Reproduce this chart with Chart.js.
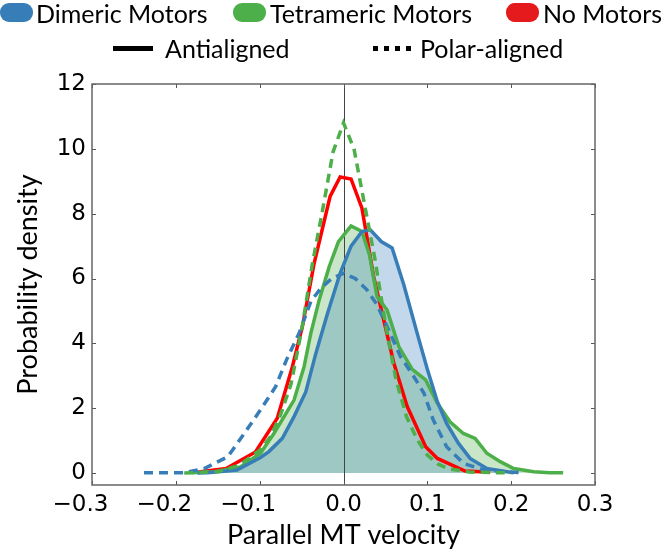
<!DOCTYPE html>
<html>
<head>
<meta charset="utf-8">
<script src="https://cdn.jsdelivr.net/npm/chart.js@4"></script>
<style>
  body { margin: 0; background: #fff; }
  #wrap { position: relative; width: 661px; height: 551px; overflow: hidden; }
  .leg { position: absolute; font-family: Lato, sans-serif; font-size: 25px; color: #000; white-space: nowrap; line-height: 26px; }
  .pill { position: absolute; width: 33px; height: 19px; border-radius: 9px; }
  .ln { position: absolute; width: 40px; height: 5px; background: #000; }
  .dots { position: absolute; width: 38px; height: 5px; background: repeating-linear-gradient(to right, #000 0 5px, transparent 5px 11px); }
</style>
</head>
<body>
<div id="wrap">
  <canvas id="grafico" width="661" height="551"></canvas>

  <div class="pill" style="left:0px;top:3px;background:#377eb8"></div>
  <div class="leg" style="left:36px;top:0px">Dimeric Motors</div>
  <div class="pill" style="left:233px;top:3px;background:#4daf4a"></div>
  <div class="leg" style="left:270px;top:0px">Tetrameric Motors</div>
  <div class="pill" style="left:506px;top:3px;background:#e41a1c"></div>
  <div class="leg" style="left:543px;top:0px">No Motors</div>

  <div class="ln" style="left:113px;top:46px"></div>
  <div class="leg" style="left:165px;top:35px">Antialigned</div>
  <div class="dots" style="left:373px;top:46px"></div>
  <div class="leg" style="left:420px;top:35px">Polar-aligned</div>
</div>

<script>
// ejes
const xTicks = [-0.3, -0.2, -0.1, 0.0, 0.1, 0.2, 0.3];
const yTicks = [0, 2, 4, 6, 8, 10, 12];

// Dimeric, antialigned (solid blue, filled)
const xDimAnti = [-0.174, -0.162, -0.127, -0.099, -0.089, -0.073, -0.059, -0.045, -0.033, -0.019, -0.004, 0.009, 0.022, 0.032, 0.045, 0.058, 0.072, 0.088, 0.100, 0.112, 0.123, 0.137, 0.151, 0.171, 0.195, 0.203];
const yDimAnti = [0.00, 0.01, 0.09, 0.48, 0.66, 1.07, 1.74, 2.50, 3.69, 4.93, 6.16, 7.00, 7.45, 7.50, 7.14, 6.94, 5.80, 4.30, 3.20, 2.20, 1.53, 0.92, 0.45, 0.14, 0.04, 0.01];

// Dimeric, polar-aligned (dashed blue)
const xDimPolar = [-0.238, -0.190, -0.166, -0.138, -0.117, -0.099, -0.081, -0.068, -0.053, -0.039, -0.027, -0.014, 0.000, 0.014, 0.028, 0.040, 0.052, 0.068, 0.084, 0.096, 0.107, 0.123, 0.143, 0.167, 0.211];
const yDimPolar = [0.01, 0.01, 0.14, 0.50, 1.27, 1.95, 2.66, 3.49, 4.31, 5.29, 5.70, 6.00, 6.16, 6.00, 5.65, 5.19, 4.52, 3.59, 2.97, 2.46, 1.64, 0.81, 0.30, 0.09, 0.01];

// Tetrameric, antialigned (solid green, filled)
const xTetAnti = [-0.180, -0.154, -0.123, -0.099, -0.083, -0.059, -0.047, -0.039, -0.029, -0.017, -0.006, 0.009, 0.022, 0.031, 0.040, 0.052, 0.066, 0.082, 0.098, 0.112, 0.127, 0.143, 0.157, 0.171, 0.187, 0.203, 0.227, 0.246, 0.262];
const yTetAnti = [0.01, 0.04, 0.19, 0.61, 1.22, 2.25, 3.28, 4.31, 5.34, 6.37, 7.14, 7.62, 7.45, 6.73, 5.44, 5.03, 3.90, 3.20, 2.87, 2.15, 1.58, 1.22, 1.07, 0.61, 0.35, 0.14, 0.04, 0.01, 0.01];

// Tetrameric, polar-aligned (dashed green)
const xTetPolar = [-0.190, -0.150, -0.125, -0.100, -0.087, -0.075, -0.0625, -0.050, -0.0375, -0.025, -0.0125, 0.000, 0.0125, 0.025, 0.0375, 0.050, 0.0625, 0.075, 0.0875, 0.100, 0.1125, 0.125, 0.150, 0.200];
const yTetPolar = [0.00, 0.04, 0.23, 0.70, 1.12, 1.80, 2.75, 4.40, 6.40, 8.10, 9.90, 10.80, 10.00, 8.30, 6.60, 4.60, 2.90, 1.75, 1.05, 0.55, 0.28, 0.13, 0.03, 0.00];

// No motors (solid red)
const xNone = [-0.175, -0.140, -0.105, -0.079, -0.061, -0.049, -0.035, -0.016, -0.004, 0.009, 0.022, 0.036, 0.048, 0.060, 0.076, 0.098, 0.112, 0.145, 0.175];
const yNone = [0.02, 0.14, 0.65, 1.69, 3.28, 4.52, 6.47, 8.53, 9.13, 9.07, 8.17, 6.06, 4.72, 3.39, 2.05, 0.81, 0.45, 0.06, 0.02];

const AZUL = "#377eb8", VERDE = "#4daf4a", ROJO = "#ff0000";

function pares(xs, ys) {
  return xs.map((x, i) => ({ x: x, y: ys[i] }));
}

function etiquetaX(v) {
  if (Math.abs(v) < 1e-9) return "0.0";
  if (v < 0) return "\u2212" + Math.abs(v).toFixed(1) + "\u2002\u2002";
  return v.toFixed(1);
}

// marco, marcas internas y linea vertical en x = 0
const marco = {
  id: "marco",
  beforeDatasetsDraw(chart) {
    const { ctx, chartArea: a, scales } = chart;
    const x0 = Math.round(scales.x.getPixelForValue(0)) + 0.5;
    ctx.save();
    ctx.strokeStyle = "#444";
    ctx.lineWidth = 1;
    ctx.beginPath();
    ctx.moveTo(x0, a.top);
    ctx.lineTo(x0, a.bottom);
    ctx.stroke();
    ctx.restore();
  },
  afterDatasetsDraw(chart) {
    const { ctx, chartArea: a, scales } = chart;
    ctx.save();
    ctx.strokeStyle = "#555";
    ctx.lineWidth = 1;
    ctx.beginPath();
    xTicks.forEach(v => {
      const px = Math.round(scales.x.getPixelForValue(v)) + 0.5;
      ctx.moveTo(px, a.bottom); ctx.lineTo(px, a.bottom - 4);
      ctx.moveTo(px, a.top); ctx.lineTo(px, a.top + 4);
    });
    yTicks.forEach(v => {
      const py = Math.round(scales.y.getPixelForValue(v)) + 0.5;
      ctx.moveTo(a.left, py); ctx.lineTo(a.left + 4, py);
      ctx.moveTo(a.right, py); ctx.lineTo(a.right - 4, py);
    });
    ctx.stroke();
    ctx.lineWidth = 1.5;
    ctx.strokeStyle = "#666";
    ctx.strokeRect(a.left, a.top, a.right - a.left, a.bottom - a.top);
    ctx.restore();
  }
};

const ctx = document.getElementById("grafico").getContext("2d");
new Chart(ctx, {
  type: "line",
  data: {
    datasets: [
      { label: "Tetrameric polar", data: pares(xTetPolar, yTetPolar), borderColor: VERDE, borderWidth: 3.5, borderDash: [9, 6], fill: false },
      { label: "Dimeric polar", data: pares(xDimPolar, yDimPolar), borderColor: AZUL, borderWidth: 3.5, borderDash: [9, 6], fill: false },
      { label: "Dimeric anti", data: pares(xDimAnti, yDimAnti), borderColor: AZUL, borderWidth: 3.5, fill: "origin", backgroundColor: "rgba(55,126,184,0.3)" },
      { label: "Tetrameric anti", data: pares(xTetAnti, yTetAnti), borderColor: VERDE, borderWidth: 3.5, fill: "origin", backgroundColor: "rgba(77,175,74,0.3)" },
      { label: "No motors", data: pares(xNone, yNone), borderColor: ROJO, borderWidth: 3.5, fill: false }
    ]
  },
  options: {
    responsive: false,
    animation: false,
    events: [],
    layout: { padding: { left: 0, right: 66, top: 84, bottom: 0 } },
    elements: { point: { radius: 0 }, line: { tension: 0, borderJoinStyle: "miter" } },
    plugins: {
      legend: { display: false },
      tooltip: { enabled: false },
      filler: { drawTime: "beforeDatasetsDraw" }
    },
    scales: {
      x: {
        type: "linear",
        min: -0.3, max: 0.3,
        grid: { display: false, drawTicks: false },
        border: { display: false },
        afterBuildTicks: s => { s.ticks = xTicks.map(v => ({ value: v })); },
        afterFit: s => { s.height = 66; },
        ticks: {
          autoSkip: false, maxRotation: 0, padding: 6,
          color: "#000",
          font: { family: "'DejaVu Sans'", size: 23 },
          callback: v => etiquetaX(v)
        },
        title: {
          display: true, text: "Parallel MT velocity", color: "#000",
          font: { family: "Lato", size: 27 },
          padding: { top: 0, bottom: 0 }
        }
      },
      y: {
        type: "linear",
        min: -0.37, max: 12,
        grid: { display: false, drawTicks: false },
        border: { display: false },
        afterBuildTicks: s => { s.ticks = yTicks.map(v => ({ value: v })); },
        afterFit: s => { s.width = 92; },
        ticks: {
          autoSkip: false, padding: 6,
          color: "#000",
          font: { family: "'DejaVu Sans'", size: 23 },
          callback: v => String(v)
        },
        title: {
          display: true, text: "Probability density", color: "#000",
          font: { family: "Lato", size: 27 },
          padding: { top: 12, bottom: 0 }
        }
      }
    }
  },
  plugins: [marco]
});
</script>
</body>
</html>
